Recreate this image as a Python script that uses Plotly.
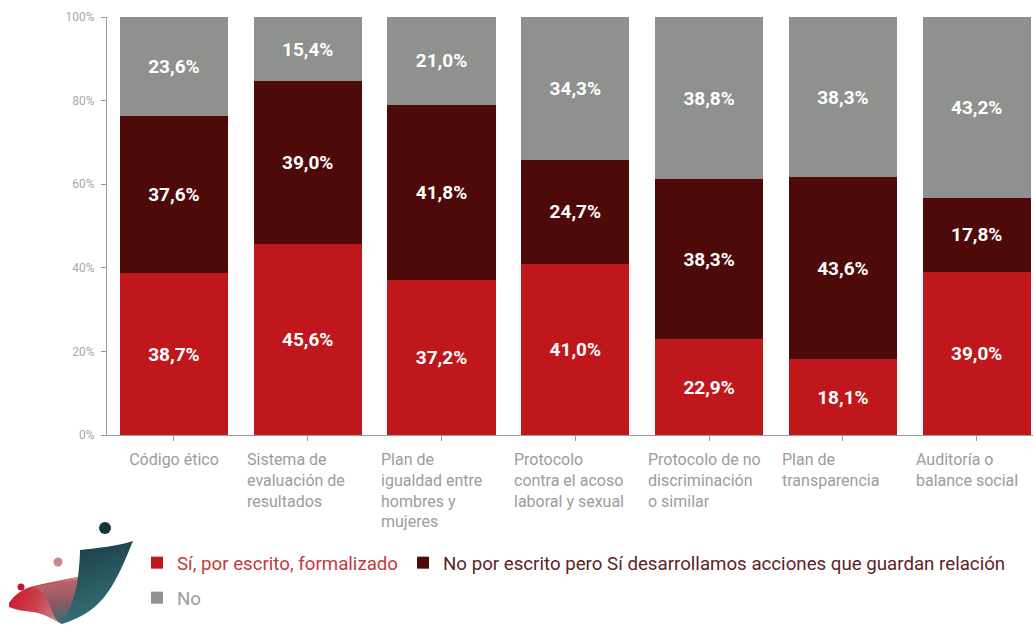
import base64
import plotly.graph_objects as go

# ---- data -------------------------------------------------------------
categories = [
    "Código ético",
    "Sistema de<br>evaluación de<br>resultados",
    "Plan de<br>igualdad entre<br>hombres y<br>mujeres",
    "Protocolo<br>contra el acoso<br>laboral y sexual",
    "Protocolo de no<br>discriminación<br>o similar",
    "Plan de<br>transparencia",
    "Auditoría o<br>balance social",
]
si_formalizado = [38.7, 45.6, 37.2, 41.0, 22.9, 18.1, 39.0]
no_escrito_acciones = [37.6, 39.0, 41.8, 24.7, 38.3, 43.6, 17.8]
no_values = [23.6, 15.4, 21.0, 34.3, 38.8, 38.3, 43.2]

series_names = [
    "Sí, por escrito, formalizado",
    "No por escrito pero Sí desarrollamos acciones que guardan relación",
    "No",
]
series_colors = ["#c0171c", "#4e0909", "#8f918e"]
legend_text_colors = ["#c43a3e", "#5e2328", "#9d9d9d"]
y_ticks = [0, 20, 40, 60, 80, 100]
y_ticktext = [f"{v}%" for v in y_ticks]

# ---- geometry ---------------------------------------------------------
W, H = 1033, 625
M_L, M_R, M_T, M_B = 107, 0, 17, 190
PW, PH = W - M_L - M_R, H - M_T - M_B


def paper_x(px):
    return (px - M_L) / PW


def paper_y(py):
    return (H - M_B - py) / PH


FONT = "Roboto, 'Open Sans', sans-serif"
idx = list(range(len(categories)))

fig = go.Figure()
for vals, name, color, tcolor, leg in zip(
    [si_formalizado, no_escrito_acciones, no_values],
    series_names,
    series_colors,
    legend_text_colors,
    ["legend", "legend", "legend2"],
):
    fig.add_trace(
        go.Bar(
            x=idx,
            y=vals,
            name=f"<span style='color:{tcolor}'>{name}</span>",
            marker=dict(color=color, line=dict(width=0)),
            texttemplate="<b>%{y:.1f}%</b>",
            textposition="inside",
            insidetextanchor="middle",
            textangle=0,
            textfont=dict(color="white", size=19, family=FONT),
            legend=leg,
            hoverinfo="skip",
        )
    )

# category labels below the axis (multi-line ones are left aligned)
for i, label in enumerate(categories):
    fig.add_annotation(
        x=i,
        y=0,
        xref="x",
        yref="y",
        text=label,
        showarrow=False,
        xanchor="center",
        yanchor="top",
        width=122,
        align="left" if "<br>" in label else "center",
        yshift=-13,
        font=dict(size=16, color="#9c9c9c", family=FONT),
    )

# brand mark in the lower-left corner
logo_svg = """<svg xmlns='http://www.w3.org/2000/svg' viewBox='0 0 140 115' width='140' height='115'>
<defs>
<linearGradient id='r' x1='0' y1='0' x2='1' y2='0.3'>
<stop offset='0' stop-color='#d0101e'/><stop offset='0.5' stop-color='#c9414c'/><stop offset='1' stop-color='#d39a9c'/>
</linearGradient>
<linearGradient id='f' x1='0' y1='0' x2='0.2' y2='1'>
<stop offset='0' stop-color='#c76a70'/><stop offset='0.6' stop-color='#8a5560'/><stop offset='1' stop-color='#2f6871'/>
</linearGradient>
<linearGradient id='t' x1='0' y1='0' x2='0.3' y2='1'>
<stop offset='0' stop-color='#1a3944'/><stop offset='1' stop-color='#347178'/>
</linearGradient>
</defs>
<path d='M9,93 C15,84 24,78 34,76 C50,72 66,69 82,66 L82,92 C76,100 68,108 62,114 C54,110 46,105 38,103 C28,101 18,101 9,97 Z' fill='url(#r)'/>
<path d='M33,77 C43,80 49,92 53,104 C56,110 59,113 62,114 C70,104 76,96 82,90 L82,69 C66,71 48,74 33,77 Z' fill='url(#f)' opacity='0.9'/>
<path d='M80,40 C98,38 118,36 133,31 C126,48 118,68 108,82 C98,97 82,108 62,114 C70,100 76,85 78,67 C79,58 80,48 80,40 Z' fill='url(#t)'/>
<circle cx='105' cy='18' r='6' fill='#16343f'/>
<circle cx='58' cy='52' r='4.5' fill='#c98a8c'/>
<circle cx='21' cy='77' r='3.5' fill='#c0172e'/>
</svg>"""
logo_src = "data:image/svg+xml;base64," + base64.b64encode(logo_svg.encode()).decode()
fig.add_layout_image(
    dict(
        source=logo_src,
        xref="paper",
        yref="paper",
        x=paper_x(0),
        y=paper_y(510),
        sizex=140 / PW,
        sizey=115 / PH,
        xanchor="left",
        yanchor="top",
        sizing="stretch",
        layer="above",
    )
)

fig.update_layout(
    width=W,
    height=H,
    margin=dict(l=M_L, r=M_R, t=M_T, b=M_B, pad=0),
    barmode="stack",
    bargap=0.19,
    separators=",.",
    paper_bgcolor="white",
    plot_bgcolor="white",
    font=dict(family=FONT),
    showlegend=True,
    legend=dict(
        orientation="h",
        x=paper_x(137),
        xanchor="left",
        y=paper_y(563),
        yanchor="middle",
        font=dict(size=18.7, family=FONT),
        bgcolor="rgba(0,0,0,0)",
        traceorder="normal",
    ),
    legend2=dict(
        orientation="h",
        x=paper_x(137),
        xanchor="left",
        y=paper_y(598),
        yanchor="middle",
        font=dict(size=18.7, family=FONT),
        bgcolor="rgba(0,0,0,0)",
    ),
    xaxis=dict(
        range=[-0.5, -0.5 + PW / 133.8],
        tickmode="array",
        tickvals=idx,
        showticklabels=False,
        ticks="outside",
        ticklen=5,
        tickcolor="#9a9a9a",
        showline=True,
        linecolor="#9a9a9a",
        linewidth=1,
        showgrid=False,
        zeroline=False,
        fixedrange=True,
    ),
    yaxis=dict(
        range=[0, 100],
        tickmode="array",
        tickvals=y_ticks,
        ticktext=y_ticktext,
        ticks="outside",
        ticklen=5,
        tickcolor="#9a9a9a",
        showline=True,
        linecolor="#9a9a9a",
        linewidth=1,
        showgrid=False,
        zeroline=False,
        tickfont=dict(size=12, color="#a8a8a8", family=FONT),
        ticklabelstandoff=4,
        fixedrange=True,
    ),
)

fig.write_html("out.html")
